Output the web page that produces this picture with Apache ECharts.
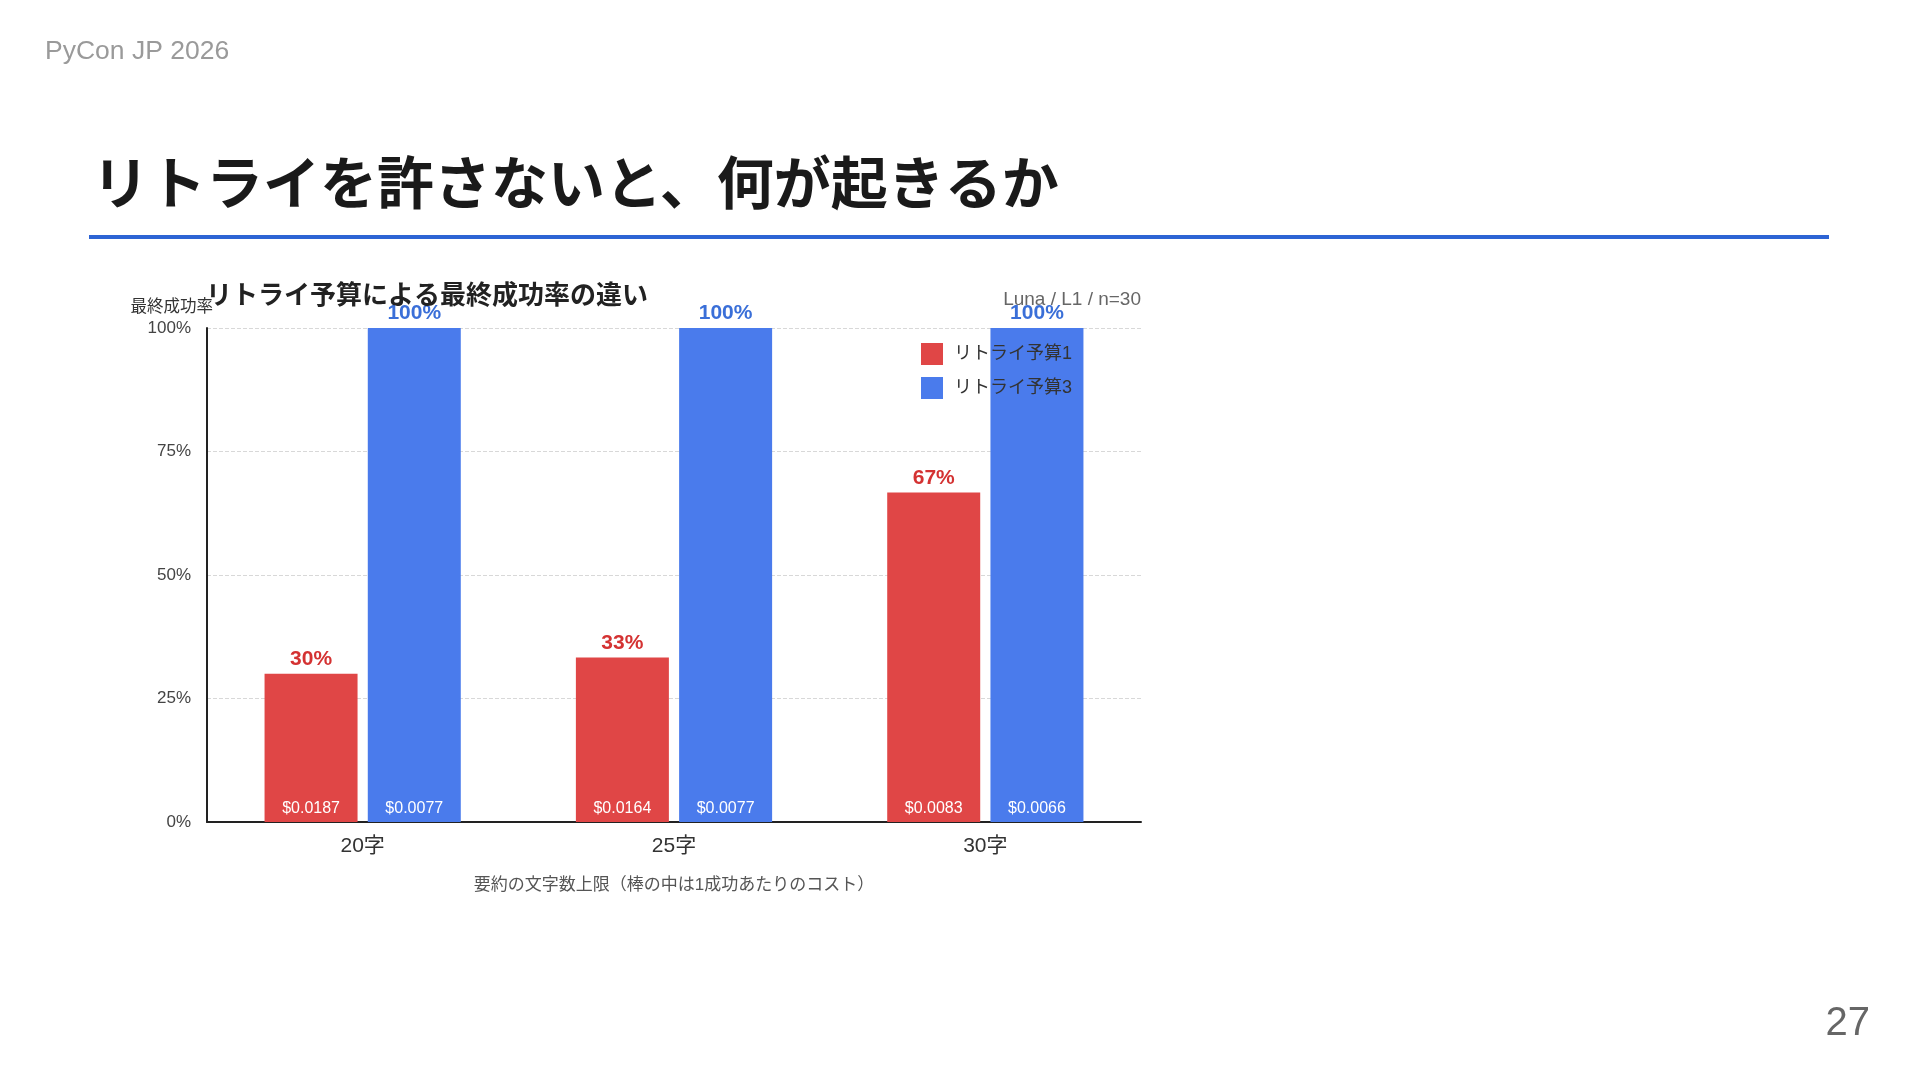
<!DOCTYPE html>
<html>
<head>
<meta charset="utf-8">
<title>リトライ予算による最終成功率の違い</title>
<script src="https://cdn.jsdelivr.net/npm/echarts@6/dist/echarts.min.js"></script>
<style>
  html, body { margin: 0; padding: 0; background: #fff; }
  #main { width: 1920px; height: 1080px; }
</style>
</head>
<body>
<div id="main"></div>
<script>
// データ
var categories = ['20字', '25字', '30字'];
var seriesNames = ['リトライ予算1', 'リトライ予算3'];
var budget1Rate = [30, 33.3, 66.7];
var budget3Rate = [100, 100, 100];
var budget1Cost = [0.0187, 0.0164, 0.0083];
var budget3Cost = [0.0077, 0.0077, 0.0066];
var yTicks = [0, 25, 50, 75, 100];

var FONT = "'Liberation Sans', 'Noto Sans CJK JP', sans-serif";
var RED = '#e04646';
var BLUE = '#4a7bec';

var myChart = echarts.init(document.getElementById('main'));

// 棒本体：下端に1成功あたりのコスト
function costBar(name, stack, values, costs, color) {
  return {
    name: name,
    type: 'bar',
    stack: stack,
    barWidth: 93,
    barGap: '11%',
    itemStyle: { color: color },
    label: {
      show: true,
      position: 'insideBottom',
      distance: 5,
      color: '#fff',
      fontSize: 16,
      fontFamily: FONT,
      formatter: function (p) { return '$' + costs[p.dataIndex].toFixed(4); }
    },
    data: values
  };
}

// 高さ0の棒を積んで、上端に成功率を表示
function rateLabel(name, stack, values, color) {
  return {
    name: name + ' label',
    type: 'bar',
    stack: stack,
    barWidth: 93,
    barGap: '11%',
    silent: true,
    itemStyle: { color: 'transparent' },
    label: {
      show: true,
      position: 'top',
      distance: 4,
      color: color,
      fontSize: 21,
      fontWeight: 'bold',
      fontFamily: FONT,
      formatter: function (p) { return Math.round(values[p.dataIndex]) + '%'; }
    },
    data: values.map(function () { return 0; })
  };
}

var option = {
  animation: false,
  textStyle: { fontFamily: FONT },
  title: [
    {
      text: 'PyCon JP 2026',
      left: 40, top: 33,
      textStyle: { color: '#9a9a9a', fontSize: 26.5, fontWeight: 'normal', fontFamily: FONT }
    },
    {
      text: 'リトライを許さないと、何が起きるか',
      left: 87, top: 155,
      textStyle: { color: '#1a1a1a', fontSize: 57, fontWeight: 'bold', fontFamily: FONT }
    },
    {
      text: 'リトライ予算による最終成功率の違い',
      left: 201, top: 279,
      textStyle: { color: '#222', fontSize: 26, fontWeight: 'bold', fontFamily: FONT }
    },
    {
      text: 'Luna / L1 / n=30',
      right: 774, top: 285,
      textStyle: { color: '#666', fontSize: 19, fontWeight: 'normal', fontFamily: FONT }
    },
    {
      text: '27',
      right: 45, top: 999,
      textStyle: { color: '#666', fontSize: 40, fontWeight: 'normal', fontFamily: FONT }
    }
  ],
  graphic: [
    {
      type: 'rect',
      shape: { x: 89, y: 235, width: 1740, height: 4 },
      style: { fill: '#2d64d4' }
    }
  ],
  legend: {
    data: seriesNames,
    orient: 'vertical',
    left: 916,
    top: 338,
    itemWidth: 22,
    itemHeight: 22,
    itemGap: 12,
    icon: 'rect',
    textStyle: { color: '#333', fontSize: 18, fontFamily: FONT, padding: [0, 0, 0, 6] }
  },
  grid: {
    left: 207,
    right: 779,
    top: 328,
    bottom: 258,
    containLabel: false
  },
  xAxis: {
    type: 'category',
    data: categories,
    name: '要約の文字数上限（棒の中は1成功あたりのコスト）',
    nameLocation: 'middle',
    nameGap: 55,
    nameTextStyle: { color: '#555', fontSize: 17, fontFamily: FONT },
    axisLine: { lineStyle: { color: '#222', width: 2 } },
    axisTick: { show: false },
    axisLabel: { color: '#333', fontSize: 21, margin: 14, fontFamily: FONT }
  },
  yAxis: {
    type: 'value',
    min: yTicks[0],
    max: yTicks[yTicks.length - 1],
    interval: yTicks[1] - yTicks[0],
    name: '最終成功率',
    nameLocation: 'end',
    nameGap: 12,
    nameTextStyle: { color: '#333', fontSize: 16.5, align: 'right', padding: [0, -6, 0, 0], fontFamily: FONT },
    axisLine: { show: true, lineStyle: { color: '#222', width: 2 } },
    axisTick: { show: false },
    axisLabel: { color: '#444', fontSize: 17, margin: 16, formatter: '{value}%', fontFamily: FONT },
    splitLine: { lineStyle: { color: '#d8d8d8', type: 'dashed' } }
  },
  series: [
    costBar(seriesNames[0], 'b1', budget1Rate, budget1Cost, RED),
    rateLabel(seriesNames[0], 'b1', budget1Rate, '#d43232'),
    costBar(seriesNames[1], 'b3', budget3Rate, budget3Cost, BLUE),
    rateLabel(seriesNames[1], 'b3', budget3Rate, '#3a6fd8')
  ]
};

myChart.setOption(option);
</script>
</body>
</html>
